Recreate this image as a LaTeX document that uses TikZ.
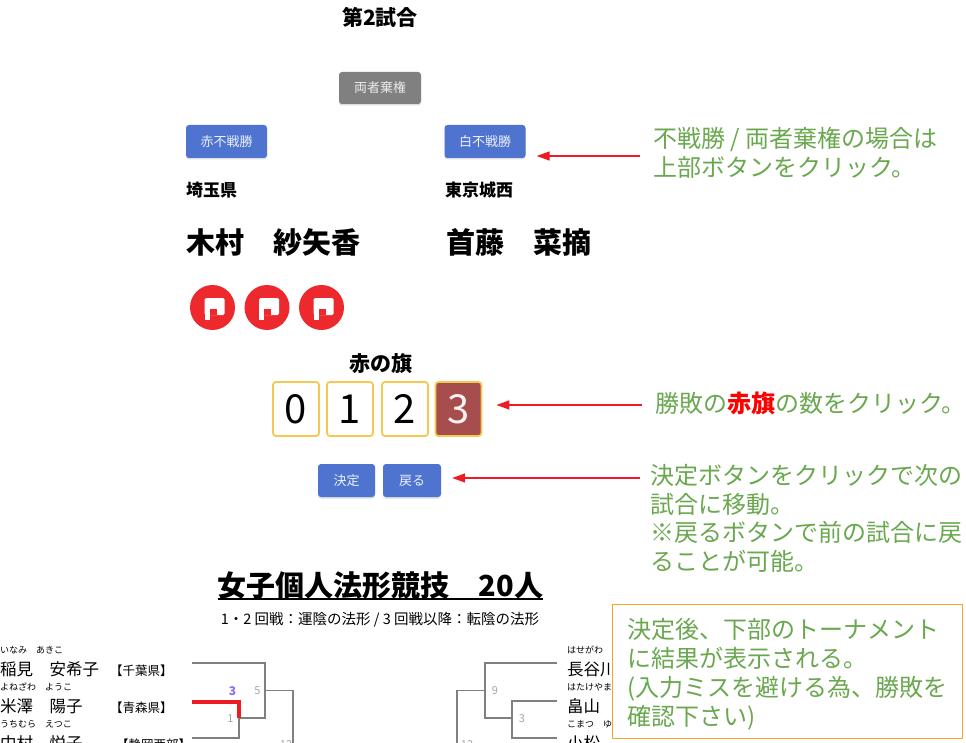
\documentclass[tikz,border=0pt]{standalone}
\usepackage{fontspec}
\setmainfont{Noto Sans CJK JP}
\usetikzlibrary{arrows.meta,shadows}

\definecolor{btnblue}{RGB}{79,116,208}
\definecolor{btngray}{RGB}{128,128,128}
\definecolor{flagred}{RGB}{237,41,45}
\definecolor{boxyellow}{RGB}{245,200,80}
\definecolor{boxred}{RGB}{166,77,77}
\definecolor{notegreen}{RGB}{106,168,79}
\definecolor{arrred}{RGB}{237,28,36}
\definecolor{noteorange}{RGB}{245,166,35}
\definecolor{linegray}{RGB}{128,128,128}
\definecolor{numpurple}{RGB}{140,110,240}

\tikzstyle{btn} = [rounded corners=3pt, fill=btnblue, text=white!90!btnblue, minimum width=81pt, minimum height=33pt, inner sep=0pt, font=\fontsize{13pt}{15pt}\selectfont, drop shadow={opacity=0.25,shadow xshift=0pt,shadow yshift=-1.5pt}]
\tikzstyle{numbox} = [draw=boxyellow, line width=1.8pt, rounded corners=3pt, fill=white, minimum width=46pt, minimum height=54pt, inner sep=0pt, font=\fontsize{40pt}{44pt}\selectfont]
\tikzstyle{note} = [text=notegreen, anchor=north west, inner sep=0pt, align=left, font=\fontsize{24pt}{28.7pt}\selectfont]
\tikzstyle{arr} = [draw=arrred, line width=1.4pt, -{Triangle[length=13pt,width=9pt]}]
\tikzstyle{bracket} = [draw=linegray, line width=1.5pt]
\tikzstyle{num} = [text=linegray!70, font=\fontsize{11pt}{13pt}\selectfont, inner sep=0pt]
\tikzstyle{kana} = [anchor=base west, inner sep=0pt, font=\fontsize{9pt}{11pt}\selectfont]
\tikzstyle{player} = [anchor=base west, inner sep=0pt, font=\fontsize{16.5pt}{18pt}\selectfont]
\tikzstyle{pref} = [anchor=base west, inner sep=0pt, font=\fontsize{12.5pt}{14pt}\selectfont]

\begin{document}
\begin{tikzpicture}[x=1pt,y=-1pt]
\useasboundingbox[fill=white] (0,0) rectangle (966,743);

% match header and buttons
\node [anchor=base, inner sep=0pt, font=\fontsize{21pt}{24pt}\selectfont\bfseries] (hd) at (380,26) {第2試合};
\node [btn, fill=btngray, text=white!85!btngray, minimum width=82pt, minimum height=32pt] (both) at (380,88) {両者棄権};
\node [btn] (rb) at (226.5,141.5) {赤不戦勝};
\node [btn] (wb) at (485,141.5) {白不戦勝};

% players
\node [anchor=base west, inner sep=0pt, font=\fontsize{17pt}{19pt}\selectfont\bfseries] (rp) at (186,197) {埼玉県};
\node [anchor=base west, inner sep=0pt, font=\fontsize{17pt}{19pt}\selectfont\bfseries] (wp) at (445,197) {東京城西};
\node [anchor=base west, inner sep=0pt, font=\fontsize{29pt}{32pt}\selectfont\bfseries] (rn) at (186,254) {木村　紗矢香};
\node [anchor=base west, inner sep=0pt, font=\fontsize{29pt}{32pt}\selectfont\bfseries] (wn) at (446,254) {首藤　菜摘};

% flags
\foreach \i/\x in {1/212.5,2/267,3/321.5} {
	\node [circle, fill=flagred, minimum size=45pt, inner sep=0pt] (f\i) at (\x,307.5) {};
	\fill [white, rounded corners=1.5pt] ([shift={(-8pt,9.5pt)}]f\i.center) rectangle ([shift={(12pt,-7.5pt)}]f\i.center);
	\fill [white] ([shift={(-8pt,0pt)}]f\i.center) rectangle ([shift={(-3pt,-12.5pt)}]f\i.center);
	\fill [flagred] ([shift={(-3pt,-1pt)}]f\i.center) rectangle ([shift={(4pt,-7.6pt)}]f\i.center);
}

% flag count
\node [anchor=base, inner sep=0pt, font=\fontsize{21pt}{24pt}\selectfont\bfseries] (cnt) at (380.5,371) {赤の旗};
\node [numbox] (b0) at (296,409) {0};
\node [numbox] (b1) at (350,409) {1};
\node [numbox] (b2) at (405,409) {2};
\node [numbox, fill=boxred, text=white!92!boxred] (b3) at (458.5,409) {3};
\node [btn, minimum width=57pt] (ok) at (346.5,480.5) {決定};
\node [btn, minimum width=58pt] (back) at (412,480.5) {戻る};

% notes
\node [note] (n1) at (653,127) {不戦勝 / 両者棄権の場合は\\上部ボタンをクリック。};
\node [note] (n2) at (655,392) {勝敗の{\color{red}\bfseries 赤旗}の数をクリック。};
\node [note] (n3) at (650,464) {決定ボタンをクリックで次の\\試合に移動。\\※戻るボタンで前の試合に戻\\ることが可能。};
\coordinate (p1) at (640,156);
\coordinate (p2) at (642,405);
\coordinate (p3) at (640,478);
\draw [arr, shorten >=11pt] (p1) -- (p1 -| wb.east);
\draw [arr, shorten >=14pt] (p2) -- (p2 -| b3.east);
\draw [arr, shorten >=11pt] (p3) -- (p3 -| back.east);

% tournament
\node [anchor=base, inner sep=0pt, font=\fontsize{29pt}{32pt}\selectfont\bfseries] (tt) at (380.5,596) {女子個人法形競技　20人};
\draw [line width=2.2pt] ([yshift=-3pt]tt.base west) -- ([yshift=-3pt]tt.base east);
\node [anchor=base, inner sep=0pt, font=\fontsize{14.5pt}{16pt}\selectfont] (st) at (380,624) {1・2 回戦：運陰の法形 / 3 回戦以降：転陰の法形};

\node [kana] (k1) at (0,653) {いなみ　あきこ};
\node [player] (p1n) at (0,675) {稲見　安希子};
\node [pref] (c1) at (110,675) {【千葉県】};
\node [kana] (k2) at (0,690) {よねざわ　ようこ};
\node [player] (p2n) at (0,712) {米澤　陽子};
\node [pref] (c2) at (110,712) {【青森県】};
\node [kana] (k3) at (0,727) {うちむら　えつこ};
\node [player] (p3n) at (0,749) {中村　悦子};
\node [pref] (c3) at (116,749) {【静岡西部】};

\node [kana] (k4) at (567,653) {はせがわ};
\node [player] (p4n) at (567,675) {長谷川};
\node [kana] (k5) at (567,690) {はたけやま};
\node [player] (p5n) at (567,712) {畠山};
\node [kana] (k6) at (567,727) {こまつ　ゆ};
\node [player] (p6n) at (567,749) {小松};

\coordinate (l1) at (192,663);
\coordinate (l2) at (192,702);
\coordinate (l3) at (192,738);
\coordinate (c5) at (265,718);
\coordinate (j1) at (239,718);
\coordinate (o5) at (265,690.5);
\coordinate (c12) at (293,760);
\draw [bracket] (l1) -| (c5) -- (j1);
\draw [bracket] (l3) -| (j1);
\draw [bracket] (o5) -| (c12);
\draw [draw=arrred, line width=4pt] (l2) -| (j1);

\coordinate (r1) at (557,663);
\coordinate (r2) at (557,701);
\coordinate (r3) at (557,738);
\coordinate (c9) at (485,718);
\coordinate (j3) at (512,718);
\coordinate (o9) at (485,690.5);
\coordinate (d12) at (457,760);
\draw [bracket] (r1) -| (c9) -- (j3);
\draw [bracket] (r2) -| (j3);
\draw [bracket] (r3) -| (j3);
\draw [bracket] (o9) -| (d12);

\node [num] (m1) at (230.5,718.5) {1};
\node [num, text=numpurple, font=\fontsize{12pt}{14pt}\selectfont\bfseries] (s1) at (232.5,691.5) {3};
\node [num] (m5) at (257.5,691) {5};
\node [num] (m12) at (286,745) {12};
\node [num] (m9) at (495,691) {9};
\node [num] (m3) at (522,718.5) {3};
\node [num] (m12r) at (467,745) {12};

% result note
\node [draw=noteorange, line width=1.8pt, fill=white, minimum width=350pt, minimum height=134pt, inner sep=0pt, anchor=north west] (ob) at (611.5,603.5) {};
\node [note, font=\fontsize{24pt}{29pt}\selectfont] (n4) at ([shift={(15.5pt,-15pt)}]ob.north west) {決定後、下部のトーナメント\\に結果が表示される。\\(入力ミスを避ける為、勝敗を\\確認下さい)};
\end{tikzpicture}
\end{document}
